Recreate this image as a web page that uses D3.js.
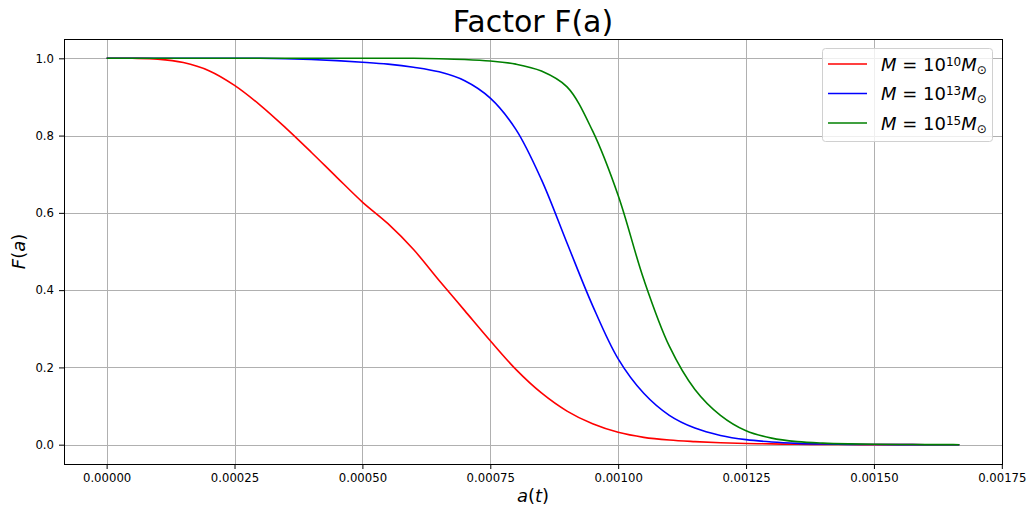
<!DOCTYPE html>
<html>
<head>
<meta charset="utf-8">
<script src="https://cdn.jsdelivr.net/npm/d3@7"></script>
<style>
body { margin: 0; background: #fff; }
svg { display: block; font-family: "DejaVu Sans", sans-serif; }
</style>
</head>
<body>
<div id="chart"></div>
<script>
var aVals = [0, 0.00005, 0.0001, 0.00015, 0.0002, 0.00025, 0.0003, 0.00035, 0.0004, 0.00045,
    0.0005, 0.00055, 0.0006, 0.00065, 0.0007, 0.00075, 0.0008, 0.00085, 0.0009, 0.00095,
    0.001, 0.00105, 0.0011, 0.00115, 0.0012, 0.00125, 0.0013, 0.00135, 0.0014, 0.00145,
    0.0015, 0.00155, 0.0016, 0.00165, 0.001667];
var fRed = [1.0, 1.0, 0.998, 0.989, 0.968, 0.930, 0.879, 0.820, 0.757, 0.692,
    0.628, 0.572, 0.505, 0.425, 0.347, 0.269, 0.195, 0.134, 0.087, 0.054,
    0.032, 0.019, 0.012, 0.008, 0.005, 0.003, 0.002, 0.001, 0.0006, 0.0003,
    0.0002, 0.0001, 0.0, 0.0, 0.0];
var fBlue = [1.0, 1.0, 1.0, 1.0, 1.0, 1.0, 1.0, 0.999, 0.997, 0.994,
    0.990, 0.985, 0.977, 0.965, 0.942, 0.897, 0.816, 0.686, 0.522, 0.360,
    0.222, 0.133, 0.076, 0.043, 0.024, 0.013, 0.007, 0.0035, 0.0017, 0.0008,
    0.0003, 0.0001, 0.0, 0.0, 0.0];
var fGreen = [1.0, 1.0, 1.0, 1.0, 1.0, 1.0, 1.0, 1.0, 1.0, 1.0,
    1.0, 1.0, 1.0, 0.999, 0.997, 0.993, 0.985, 0.967, 0.926, 0.812,
    0.645, 0.428, 0.255, 0.143, 0.076, 0.036, 0.017, 0.008, 0.004, 0.002,
    0.001, 0.0005, 0.0002, 0.0001, 0.0];
var seriesNames = ['10', '13', '15'];
var seriesColors = ['#ff0000', '#0000ff', '#008000'];
var xTicks = [0, 0.00025, 0.0005, 0.00075, 0.001, 0.00125, 0.0015, 0.00175];
var yTicks = [0, 0.2, 0.4, 0.6, 0.8, 1.0];

var width = 1033, height = 513;
var mLeft = 64, mRight = 1002, mTop = 39, mBottom = 464;

var svg = d3.select("#chart").append("svg").attr("width", width).attr("height", height);

var xMax = d3.max(aVals), xPad = 0.05 * xMax;
var x = d3.scaleLinear().domain([-xPad, xMax + xPad]).range([mLeft, mRight]);
var y = d3.scaleLinear().domain([-0.05, 1.05]).range([mBottom, mTop]);

// grid
var grid = svg.append("g");
grid.selectAll(".gx").data(xTicks).enter().append("line")
    .attr("x1", function(d) { return Math.round(x(d)) + 0.5; })
    .attr("x2", function(d) { return Math.round(x(d)) + 0.5; })
    .attr("y1", mTop).attr("y2", mBottom)
    .style("stroke", "#b0b0b0").style("stroke-width", 1);
grid.selectAll(".gy").data(yTicks).enter().append("line")
    .attr("y1", function(d) { return Math.round(y(d)) + 0.5; })
    .attr("y2", function(d) { return Math.round(y(d)) + 0.5; })
    .attr("x1", mLeft).attr("x2", mRight)
    .style("stroke", "#b0b0b0").style("stroke-width", 1);

// lines
var allSeries = [fRed, fBlue, fGreen];
var line = d3.line()
    .x(function(d) { return x(d[0]); })
    .y(function(d) { return y(d[1]); })
    .curve(d3.curveCatmullRom.alpha(0.5));
allSeries.forEach(function(vals, i) {
    var pts = aVals.map(function(a, j) { return [a, vals[j]]; });
    svg.append("path").datum(pts).attr("d", line)
        .style("fill", "none").style("stroke", seriesColors[i]).style("stroke-width", 1.6);
});

// axes
var xAxis = d3.axisBottom(x).tickValues(xTicks).tickSize(5).tickPadding(5)
    .tickFormat(function(d) { return d.toFixed(5); });
var yAxis = d3.axisLeft(y).tickValues(yTicks).tickSize(5).tickPadding(5)
    .tickFormat(function(d) { return d.toFixed(1); });
var gx = svg.append("g").attr("transform", "translate(0," + mBottom + ")").call(xAxis);
var gy = svg.append("g").attr("transform", "translate(" + mLeft + ",0)").call(yAxis);
[gx, gy].forEach(function(g) {
    g.select(".domain").remove();
    g.selectAll("text").style("font-size", "11.7px").style("font-family", "DejaVu Sans").style("fill", "#000");
    g.selectAll("line").style("stroke", "#000").style("stroke-width", 1);
});

svg.append("rect").attr("x", mLeft + 0.5).attr("y", mTop + 0.5)
    .attr("width", mRight - mLeft).attr("height", mBottom - mTop)
    .style("fill", "none").style("stroke", "#000").style("stroke-width", 1);

// titles
svg.append("text").attr("x", (mLeft + mRight) / 2).attr("y", 32).attr("text-anchor", "middle")
    .style("font-size", "30px").text("Factor F(a)");

var xl = svg.append("text").attr("x", (mLeft + mRight) / 2).attr("y", 502).attr("text-anchor", "middle")
    .style("font-size", "18px");
xl.append("tspan").style("font-style", "italic").text("a");
xl.append("tspan").text("(");
xl.append("tspan").style("font-style", "italic").text("t");
xl.append("tspan").text(")");

var yl = svg.append("text").attr("transform", "translate(25," + ((mTop + mBottom) / 2) + ") rotate(-90)")
    .attr("text-anchor", "middle").style("font-size", "18px");
yl.append("tspan").style("font-style", "italic").text("F");
yl.append("tspan").text("(");
yl.append("tspan").style("font-style", "italic").text("a");
yl.append("tspan").text(")");

// legend
var legend = svg.append("g");
legend.append("rect").attr("x", 822.5).attr("y", 48.5).attr("width", 170).attr("height", 93)
    .attr("rx", 3).style("fill", "#fff").style("fill-opacity", 0.8)
    .style("stroke", "#d0d0d0").style("stroke-width", 1);
seriesNames.forEach(function(n, i) {
    var ly = 64 + i * 29.5;
    legend.append("line").attr("x1", 828).attr("x2", 867).attr("y1", ly).attr("y2", ly)
        .style("stroke", seriesColors[i]).style("stroke-width", 1.6);
    var t = legend.append("text").attr("x", 881).attr("y", ly + 6.5).style("font-size", "18px");
    t.append("tspan").style("font-style", "italic").text("M");
    t.append("tspan").text(" = 10");
    t.append("tspan").attr("dy", -5).style("font-size", "12px").text(n);
    t.append("tspan").attr("dy", 5).style("font-style", "italic").text("M");
    t.append("tspan").attr("dy", 3).style("font-size", "12px").text("\u2299");
});
</script>
</body>
</html>
